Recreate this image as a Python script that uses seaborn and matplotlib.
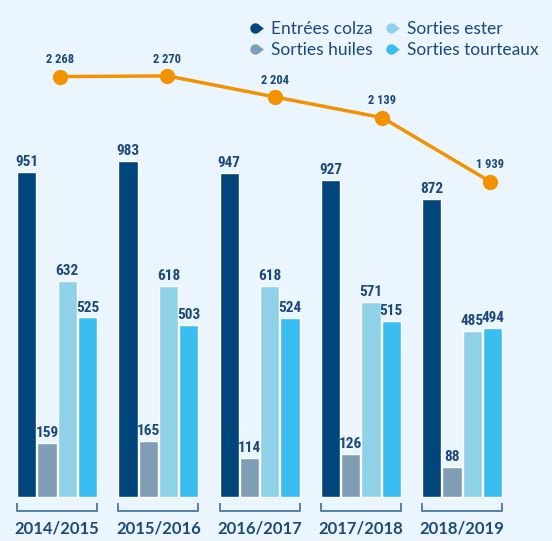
import pandas as pd
import seaborn as sns
import matplotlib.pyplot as plt
from matplotlib.lines import Line2D
from matplotlib.path import Path
import numpy as np

campagnes = ['2014/2015', '2015/2016', '2016/2017', '2017/2018', '2018/2019']
series = ['Entrées colza', 'Sorties huiles', 'Sorties ester', 'Sorties tourteaux']
entrees_colza = [951, 983, 947, 927, 872]
sorties_huiles = [159, 165, 114, 126, 88]
sorties_ester = [632, 618, 618, 571, 485]
sorties_tourteaux = [525, 503, 524, 515, 494]
total = [2268, 2270, 2204, 2139, 1939]

colors = ['#00457c', '#7f9db5', '#8ed1e9', '#3abdf0']
bg = '#eaf5fd'
navy = '#1b4a7a'
orange = '#f39200'

df = pd.DataFrame({
    'campagne': campagnes * 4,
    'serie': sum([[s] * 5 for s in series], []),
    'valeur': entrees_colza + sorties_huiles + sorties_ester + sorties_tourteaux,
})

sns.set_style('white')
plt.rcParams['font.family'] = ['Lato', 'DejaVu Sans']
narrow = ['Roboto Condensed', 'Open Sans Condensed', 'Liberation Sans Narrow',
          'Roboto', 'DejaVu Sans']

fig = plt.figure(figsize=(5.52, 5.41), dpi=100)
fig.patch.set_facecolor(bg)

# bar axes covers the whole figure
ax = fig.add_axes([0, 0, 1, 1])
ax.set_facecolor('none')
sns.barplot(data=df, x='campagne', y='valeur', hue='serie', order=campagnes,
            hue_order=series, palette=colors, width=0.8, gap=0.05,
            saturation=1, ax=ax, legend=False)
ax.set_xlim(-0.563, 4.886)
ax.set_ylim(-128.7, 1453)
ax.axis('off')

for cont in ax.containers:
    ax.bar_label(cont, padding=2, color=navy, fontsize=11, fontweight='bold',
                 family=narrow)

# brackets + year labels
for i, c in enumerate(campagnes):
    ax.plot([i - 0.395, i - 0.395, i + 0.395, i + 0.395], [-18, -41, -41, -18],
            color='#4a76a0', lw=1.3, solid_capstyle='butt')
    ax.text(i, -92, c, ha='center', va='center', color=navy, fontsize=12,
            fontweight='bold', family=['Lato', 'DejaVu Sans'])

# line axes on its own scale
ax2 = fig.add_axes([0, 0, 1, 1])
ax2.set_facecolor('none')
sns.lineplot(x=np.arange(len(total)), y=total, color=orange, lw=2.5,
             marker='o', markersize=11, markeredgewidth=0, ax=ax2)
ax2.set_xlim(-0.558, 4.577)
ax2.set_ylim(812, 2508)
ax2.axis('off')
for i, v in enumerate(total):
    ax2.text(i, v + 32, f'{v:,}'.replace(',', ' '), ha='center', va='bottom',
             color=navy, fontsize=9, fontweight='bold', family=narrow)

# teardrop marker for legend
ang = np.linspace(np.radians(40), np.radians(320), 20)
verts = [(np.cos(a), np.sin(a)) for a in ang] + [(1.6, 0), (np.cos(ang[0]), np.sin(ang[0]))]
drop = Path(verts, closed=True)
handles = [Line2D([], [], ls='none', marker=drop, markersize=12, color=c,
                  markeredgewidth=0) for c in colors]
leg = fig.legend(handles, series, ncol=2, loc='upper left',
                 bbox_to_anchor=(0.415, 0.99), frameon=False, fontsize=12.5,
                 handletextpad=0.3, columnspacing=0.5, labelspacing=0.3,
                 handlelength=1.2)
for t in leg.get_texts():
    t.set_color(navy)

fig.savefig('out.png', dpi=100, facecolor=bg)
